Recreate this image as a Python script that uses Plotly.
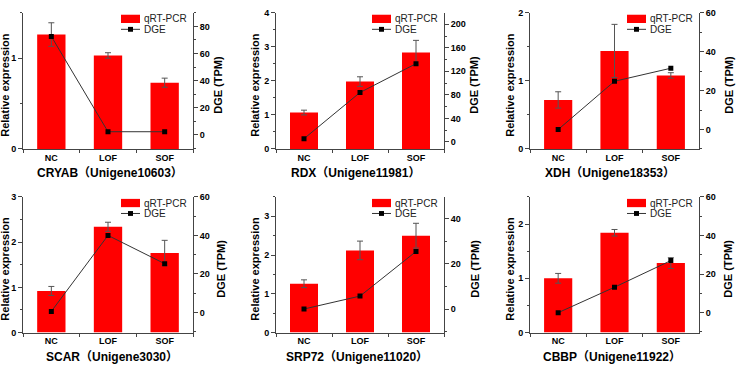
import plotly.graph_objects as go

categories = ["NC", "LOF", "SOF"]
genes = ["CRYAB", "RDX", "XDH", "SCAR", "SRP72", "CBBP"]
unigenes = ["Unigene10603", "Unigene11981", "Unigene18353", "Unigene3030", "Unigene11020", "Unigene11922"]

qpcr_cryab = [1.26, 1.03, 0.73]
qpcr_cryab_err = [0.13, 0.03, 0.05]
dge_cryab = [72.6, 2.4, 2.4]

qpcr_rdx = [1.07, 1.98, 2.83]
qpcr_rdx_err = [0.07, 0.14, 0.36]
dge_rdx = [5.5, 84, 133]

qpcr_xdh = [0.72, 1.44, 1.08]
qpcr_xdh_err = [0.12, 0.39, 0.04]
dge_xdh = [0, 24.8, 31.5]

qpcr_scar = [0.92, 2.34, 1.76]
qpcr_scar_err = [0.10, 0.10, 0.28]
dge_scar = [0.5, 40.0, 25.3]

qpcr_srp72 = [1.26, 2.12, 2.50]
qpcr_srp72_err = [0.10, 0.24, 0.32]
dge_srp72 = [0, 5.7, 25.4]

qpcr_cbbp = [1.00, 1.84, 1.28]
qpcr_cbbp_err = [0.09, 0.06, 0.10]
dge_cbbp = [0, 13.2, 27.0]

qpcr_all = [qpcr_cryab, qpcr_rdx, qpcr_xdh, qpcr_scar, qpcr_srp72, qpcr_cbbp]
err_all = [qpcr_cryab_err, qpcr_rdx_err, qpcr_xdh_err, qpcr_scar_err, qpcr_srp72_err, qpcr_cbbp_err]
dge_all = [dge_cryab, dge_rdx, dge_xdh, dge_scar, dge_srp72, dge_cbbp]

# layout config (pixels)
W, H = 736, 368
col_x = [(23, 193), (276, 444), (530, 699)]
row_y = [(8, 148), (197.3, 336.7)]
left_ranges = [(0, 1.5), (0, 4), (0, 2), (0, 3), (0, 3.5), (0, 2.5)]
right_ranges = [(-10.3, 90), (-12, 219.5), (-10, 60), (-10.5, 60), (-10.4, 49.5), (-10.3, 60)]
left_minor = [0.5, 0.5, 0.5, 0.5, 0.5, 0.5]
right_dtick = [20, 40, 20, 20, 20, 20]
left_title_x = [5, 255, 510, 5, 255, 510]
right_title_x = [218, 474, 729, 221, 475, 728]
title_x = [110, 355, 610, 112, 357, 612]

FONT = "Liberation Sans, Arial, Noto Sans CJK SC, sans-serif"
AXC = "#444444"

def px(x):
    return x / W

def py(y):
    return 1 - y / H

fig = go.Figure()
layout = dict(
    width=W, height=H, margin=dict(l=0, r=0, t=0, b=0),
    paper_bgcolor="white", plot_bgcolor="rgba(0,0,0,0)",
    showlegend=False, font=dict(family=FONT, color="black"),
)
annotations = []
shapes = []

for i in range(6):
    r, c = divmod(i, 3)
    x0, x1 = col_x[c]
    y0, y1 = row_y[r]
    n = i + 1
    xa = "x" if n == 1 else f"x{n}"
    ya = "y" if n == 1 else f"y{n}"
    ya2 = f"y{n + 6}"

    fig.add_trace(go.Bar(
        x=categories, y=qpcr_all[i], width=0.5, marker=dict(color="#FF0000", line=dict(width=0)),
        error_y=dict(type="data", array=err_all[i], color="#555555", thickness=1, width=3),
        xaxis=xa, yaxis=ya, name="qRT-PCR",
    ))
    fig.add_trace(go.Scatter(
        x=categories, y=dge_all[i], mode="lines+markers",
        line=dict(color="#333333", width=1),
        marker=dict(symbol="square", size=5, color="black"),
        xaxis=xa, yaxis=ya2, name="DGE",
    ))

    xkey = "xaxis" if n == 1 else f"xaxis{n}"
    ykey = "yaxis" if n == 1 else f"yaxis{n}"
    y2key = f"yaxis{n + 6}"
    layout[xkey] = dict(
        domain=[px(x0), px(x1)], anchor=ya, range=[-0.5, 2.5], type="category",
        showline=True, linecolor=AXC, linewidth=1, showgrid=False, zeroline=False,
        ticks="outside", tickson="boundaries", ticklen=3, tickcolor=AXC,
        tickfont=dict(size=9, weight="bold", family=FONT), fixedrange=True,
    )
    layout[ykey] = dict(
        domain=[py(y1), py(y0)], anchor=xa, range=list(left_ranges[i]), dtick=1,
        showline=True, linecolor=AXC, linewidth=1, showgrid=False, zeroline=False,
        ticks="outside", ticklen=4, tickcolor=AXC, tickfont=dict(size=9, weight="bold", family=FONT),
        minor=dict(dtick=left_minor[i], ticks="outside", ticklen=2, tickcolor=AXC),
    )
    layout[y2key] = dict(
        overlaying=ya, anchor=xa, side="right", range=list(right_ranges[i]), dtick=right_dtick[i],
        showline=True, linecolor=AXC, linewidth=1, showgrid=False, zeroline=False,
        ticks="outside", ticklen=4, tickcolor=AXC, tickfont=dict(size=9, weight="bold", family=FONT),
        minor=dict(dtick=right_dtick[i] / 2, ticks="outside", ticklen=2, tickcolor=AXC),
    )

    yc = (y0 + y1) / 2 + 4
    annotations.append(dict(
        text="Relative expression", x=px(left_title_x[i]), y=py(yc), xref="paper", yref="paper",
        textangle=-90, showarrow=False, xanchor="center", yanchor="middle",
        font=dict(size=11, weight="bold", family=FONT),
    ))
    annotations.append(dict(
        text="DGE (TPM)", x=px(right_title_x[i]), y=py(yc), xref="paper", yref="paper",
        textangle=-90, showarrow=False, xanchor="center", yanchor="middle",
        font=dict(size=11, weight="bold", family=FONT),
    ))
    annotations.append(dict(
        text=f"{genes[i]}（{unigenes[i]}）", x=px(title_x[i]), y=py(y1 + 25), xref="paper", yref="paper",
        showarrow=False, xanchor="center", yanchor="middle",
        font=dict(size=12, weight="bold", family=FONT),
    ))

    # legend (manual)
    lx0 = x1 - 72
    lx1 = lx0 + 19
    shapes.append(dict(type="rect", xref="paper", yref="paper",
                       x0=px(lx0), x1=px(lx1), y0=py(y0 + 2), y1=py(y0 + 10.5),
                       fillcolor="#FF0000", line=dict(width=0)))
    ly = y0 + 17
    shapes.append(dict(type="line", xref="paper", yref="paper",
                       x0=px(lx0), x1=px(lx1), y0=py(ly), y1=py(ly),
                       line=dict(color="#333333", width=1)))
    mc = (lx0 + lx1) / 2
    shapes.append(dict(type="rect", xref="paper", yref="paper",
                       x0=px(mc - 2.5), x1=px(mc + 2.5), y0=py(ly - 2.5), y1=py(ly + 2.5),
                       fillcolor="black", line=dict(width=0)))
    annotations.append(dict(text="qRT-PCR", x=px(lx1 + 2), y=py(y0 + 6.3), xref="paper", yref="paper",
                            showarrow=False, xanchor="left", yanchor="middle",
                            font=dict(size=10, family=FONT, color="#222222")))
    annotations.append(dict(text="DGE", x=px(lx1 + 2), y=py(ly), xref="paper", yref="paper",
                            showarrow=False, xanchor="left", yanchor="middle",
                            font=dict(size=10, family=FONT, color="#222222")))

layout["annotations"] = annotations
layout["shapes"] = shapes
fig.update_layout(**layout)
fig.write_html("out.html")
